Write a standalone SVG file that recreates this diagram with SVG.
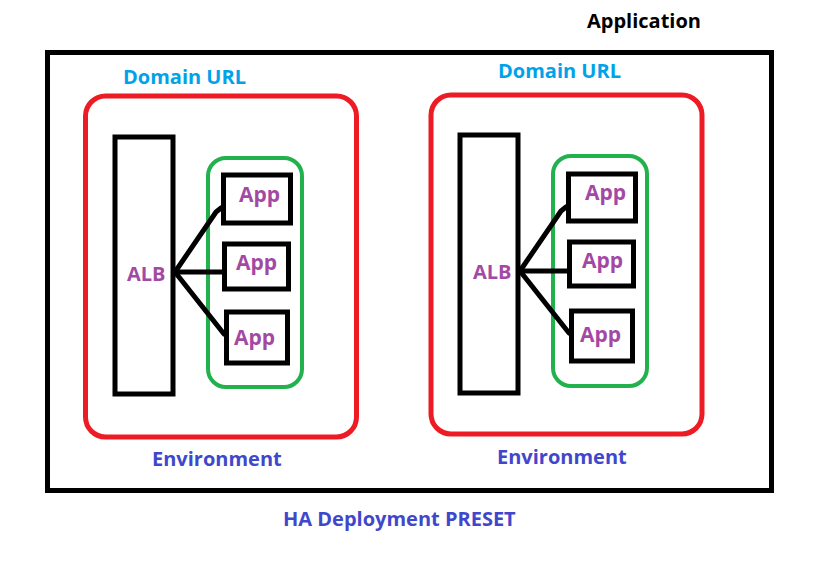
<svg xmlns="http://www.w3.org/2000/svg" width="838" height="562" viewBox="0 0 838 562">
<style>
.t{font-family:"Open Sans","DejaVu Sans",sans-serif;font-weight:bold;font-size:20px}
.a{font-size:21px}
.blk{fill:#000}
.dom{fill:#00a2e8}
.pur{fill:#a349a4}
.env{fill:#3f48cc}
.box{fill:none;stroke:#000;stroke-width:5}
.red{fill:none;stroke:#ed1c24;stroke-width:5}
.grn{fill:none;stroke:#22b14c;stroke-width:4}
.ln{stroke:#000;stroke-width:5;fill:none;stroke-linecap:round}
</style>
<rect width="838" height="562" fill="#fff"/>
<g id="application">
<rect class="box" x="47.5" y="52.5" width="724" height="438"/>
<text class="t blk" x="587" y="28">Application</text>
</g>
<text class="t env" x="283" y="526">HA Deployment PRESET</text>
<g id="env-left">
<rect class="red" x="85.5" y="96" width="271" height="341" rx="20"/>
<text class="t dom" x="123" y="84">Domain URL</text>
<text class="t env" x="152" y="466">Environment</text>
</g>
<g id="alb-left">
<rect class="box" x="115" y="137" width="58" height="257"/>
<text class="t pur" x="127" y="281">ALB</text>
</g>
<g id="apps-left">
<rect class="grn" x="208" y="158" width="94" height="229" rx="18"/>
</g>
<g id="app-l1"><rect class="box" x="223.5" y="175" width="67" height="48"/><text class="t a pur" x="239" y="202">App</text></g>
<g id="app-l2"><rect class="box" x="224.5" y="244" width="64" height="45"/><text class="t a pur" x="236" y="270">App</text></g>
<g id="app-l3"><rect class="box" x="226.5" y="312" width="61" height="51"/><text class="t a pur" x="234" y="345">App</text></g>
<g id="env-right">
<rect class="red" x="431" y="95" width="271" height="339" rx="20"/>
<text class="t dom" x="498" y="78">Domain URL</text>
<text class="t env" x="497" y="464">Environment</text>
</g>
<g id="alb-right">
<rect class="box" x="460" y="135" width="58" height="258"/>
<text class="t pur" x="473" y="279">ALB</text>
</g>
<g id="apps-right">
<rect class="grn" x="553" y="156" width="94" height="230" rx="18"/>
</g>
<g id="app-r1"><rect class="box" x="568.5" y="174" width="67" height="47"/><text class="t a pur" x="585" y="200">App</text></g>
<g id="app-r2"><rect class="box" x="569.5" y="242" width="64" height="44"/><text class="t a pur" x="582" y="268">App</text></g>
<g id="app-r3"><rect class="box" x="571.5" y="311" width="61" height="50"/><text class="t a pur" x="580" y="342">App</text></g>
<g id="connectors">
<path class="ln" d="M175 272 L216 212 L221 208"/>
<path class="ln" d="M175 272 L222 272"/>
<path class="ln" d="M175 272 L224 334"/>
<path class="ln" d="M520 271 L561 211 L566 207"/>
<path class="ln" d="M520 271 L567 271"/>
<path class="ln" d="M520 271 L569 333"/>
</g>
</svg>
